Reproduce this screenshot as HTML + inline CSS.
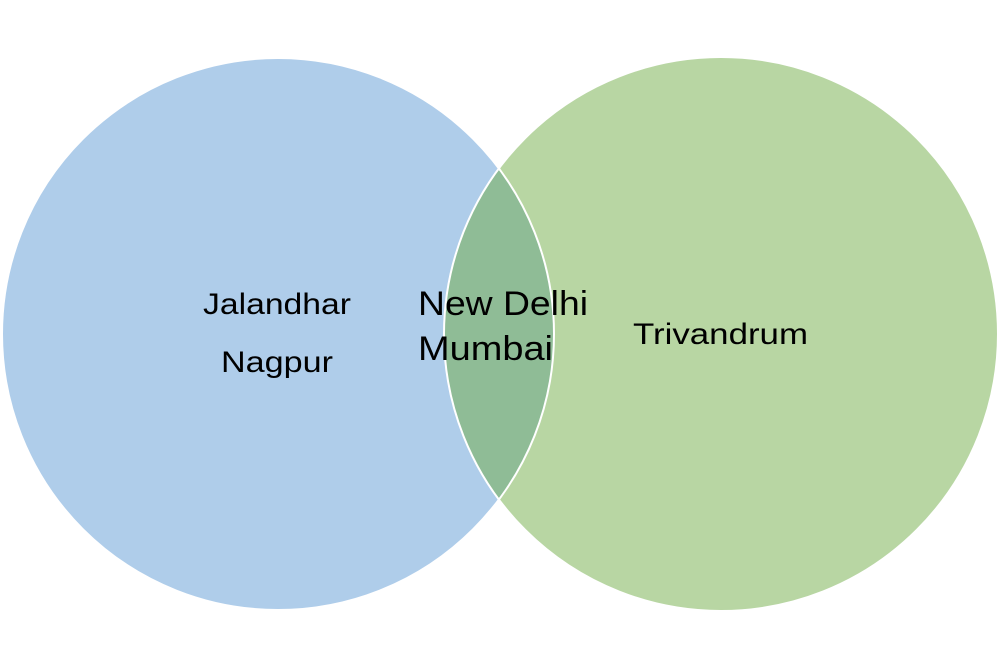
<!DOCTYPE html>
<html><head><meta charset="utf-8"><style>
html,body{margin:0;padding:0;background:#fff;}
svg{display:block;}
text{font-family:"Liberation Sans",sans-serif;fill:#000;}
</style></head><body>
<svg width="999" height="666" viewBox="0 0 999 666" xmlns="http://www.w3.org/2000/svg">
<defs>
<clipPath id="cl"><circle cx="278" cy="334" r="276"/></clipPath>
</defs>
<circle cx="278" cy="334" r="276" fill="#afcdea"/>
<circle cx="721" cy="334" r="277" fill="#b8d6a3"/>
<circle cx="721" cy="334" r="277" fill="#8fbc96" clip-path="url(#cl)"/>
<circle cx="278" cy="334" r="276" fill="none" stroke="#fff" stroke-width="2"/>
<circle cx="721" cy="334" r="277" fill="none" stroke="#fff" stroke-width="2"/>
<text x="203" y="314" font-size="30" textLength="148" lengthAdjust="spacingAndGlyphs">Jalandhar</text>
<text x="221" y="372" font-size="30" textLength="112" lengthAdjust="spacingAndGlyphs">Nagpur</text>
<text x="418" y="315" font-size="34" textLength="170" lengthAdjust="spacingAndGlyphs">New Delhi</text>
<text x="418" y="360" font-size="34" textLength="135" lengthAdjust="spacingAndGlyphs">Mumbai</text>
<text x="633" y="344" font-size="30" textLength="175" lengthAdjust="spacingAndGlyphs">Trivandrum</text>
</svg>
</body></html>
